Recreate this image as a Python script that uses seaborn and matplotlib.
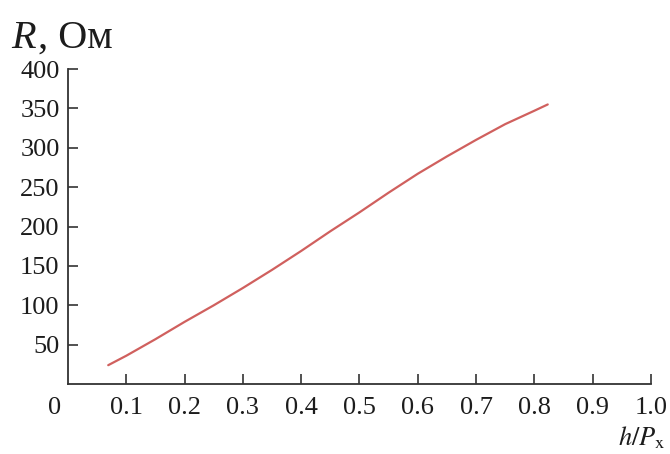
import matplotlib
matplotlib.use("Agg")
import matplotlib.pyplot as plt
import pandas as pd
import seaborn as sns

# ── data ──────────────────────────────────────────────────────────────────────
h_over_p = [0.069, 0.10, 0.15, 0.20, 0.25, 0.30, 0.35, 0.40, 0.45, 0.50,
            0.55, 0.60, 0.65, 0.70, 0.75, 0.80, 0.823]
resist   = [24,    36,   57,   79,   100,  122,  145,  169,  194,  218,
            243,   267,  289,  310,  330,  347,  355]
x_ticks  = [0.1, 0.2, 0.3, 0.4, 0.5, 0.6, 0.7, 0.8, 0.9, 1.0]
y_ticks  = [50, 100, 150, 200, 250, 300, 350, 400]

df = pd.DataFrame({"h": h_over_p, "R": resist})

sns.set_theme(style="ticks")
plt.rcParams["font.family"] = ["Liberation Serif", "DejaVu Serif"]
plt.rcParams["mathtext.fontset"] = "stix"

ink = "#1c1c1c"

fig = plt.figure(figsize=(6.7, 4.54), dpi=100)
ax = fig.add_axes([0.1015, 0.154, 0.870, 0.694])

sns.lineplot(data=df, x="h", y="R", color="#d0605e", linewidth=1.6, ax=ax)

ax.set_xlim(0, 1.0)
ax.set_ylim(0, 400)
ax.set_xticks(x_ticks)
ax.set_xticklabels([f"{t:.1f}" for t in x_ticks])
ax.set_yticks(y_ticks)
ax.set_yticklabels([str(t) for t in y_ticks])
ax.tick_params(direction="in", length=7, width=1.2, colors="#333333",
               labelcolor=ink, labelsize=19, pad=9)
ax.tick_params(axis="y", pad=6)
sns.despine(ax=ax)
for side in ("left", "bottom"):
    ax.spines[side].set_linewidth(1.3)
    ax.spines[side].set_color("#333333")

ax.set_xlabel("")
ax.set_ylabel("")

# corner "0" label shared by both axes
ax.annotate("0", xy=(0, 0), xycoords="data", xytext=(-13, -24),
            textcoords="offset pixels", ha="center", va="center",
            fontsize=19, color=ink)

fig.text(0.016, 0.895, "R", fontsize=29, style="italic", color=ink, va="baseline")
fig.text(0.056, 0.895, ", Ом", fontsize=29, color=ink, va="baseline")
fig.text(0.994, 0.02, r"$h/P_\mathrm{x}$", fontsize=19, color=ink,
         ha="right", va="baseline")

fig.savefig("out.png", dpi=100)
plt.close(fig)
